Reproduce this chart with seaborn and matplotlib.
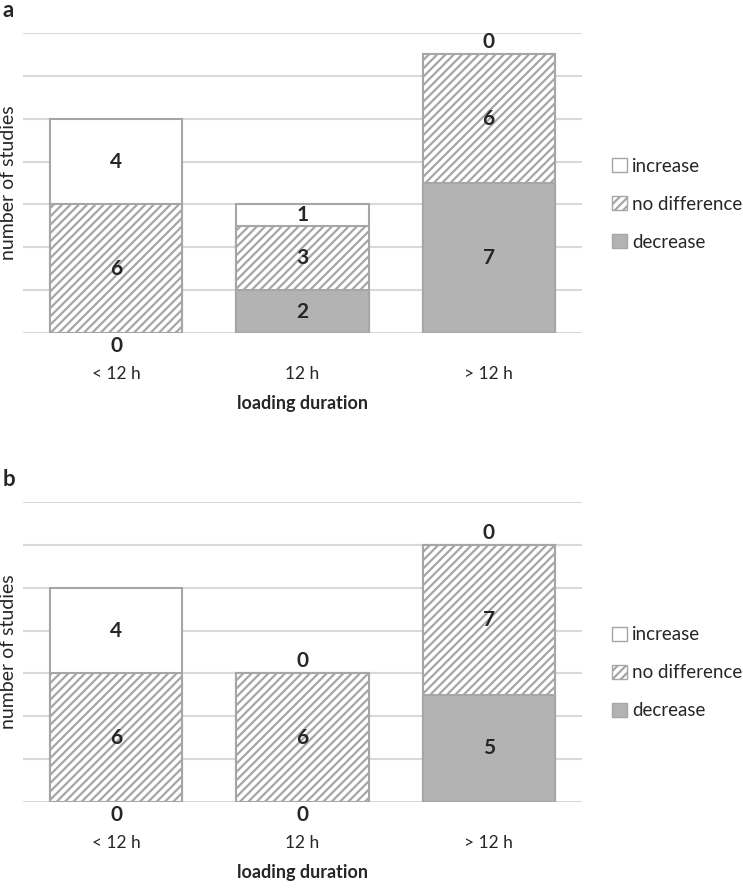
import seaborn as sns
import matplotlib.pyplot as plt
import numpy as np
from matplotlib.patches import Patch

# dados
categories = ["< 12 h", "12 h", "> 12 h"]
a_decrease = [0, 2, 7]
a_nodiff = [6, 3, 6]
a_increase = [4, 1, 0]
b_decrease = [0, 0, 5]
b_nodiff = [6, 6, 7]
b_increase = [4, 0, 0]

series_names = ["increase", "no difference", "decrease"]
edge = "#a6a6a6"
fills = {"increase": "white", "no difference": "white", "decrease": "#b3b3b3"}
hatches = {"increase": "", "no difference": "////", "decrease": ""}


def draw_panel(ax, decrease, nodiff, increase, letter):
    dec = np.array(decrease)
    nd = np.array(nodiff)
    inc = np.array(increase)
    # stacked by overlaying the cumulative totals
    layers = [("increase", dec + nd + inc), ("no difference", dec + nd), ("decrease", dec)]
    for name, heights in layers:
        sns.barplot(x=categories, y=heights, ax=ax, color=fills[name], saturation=1,
                    edgecolor=edge, linewidth=1.5, hatch=hatches[name], width=0.71,
                    errorbar=None)
    ax.set_ylim(0, 14)
    ax.set_xlim(-0.5, 2.5)
    ax.set_yticks(np.arange(0, 15, 2))
    ax.set_yticklabels([])
    ax.yaxis.grid(True, color="#d9d9d9", linewidth=1.5)
    ax.set_axisbelow(True)
    sns.despine(ax=ax, left=True, bottom=True)
    ax.tick_params(axis="both", length=0)
    ax.tick_params(axis="x", pad=24, labelsize=12.5)
    ax.set_xlabel("loading duration", fontsize=13, fontweight="bold", labelpad=9)
    ax.set_ylabel("number of studies", fontsize=14)
    ax.yaxis.set_label_coords(-0.01, 0.5)

    # rotulos
    fs = 15
    for i in range(len(categories)):
        total = dec[i] + nd[i] + inc[i]
        if dec[i] == 0:
            ax.text(i, -0.12, "0", ha="center", va="top", fontsize=fs, fontweight="bold")
        else:
            ax.text(i, dec[i] / 2, str(dec[i]), ha="center", va="center", fontsize=fs, fontweight="bold")
        ax.text(i, dec[i] + nd[i] / 2, str(nd[i]), ha="center", va="center", fontsize=fs, fontweight="bold")
        if inc[i] == 0:
            ax.text(i, total + 0.1, "0", ha="center", va="bottom", fontsize=fs, fontweight="bold")
        else:
            ax.text(i, dec[i] + nd[i] + inc[i] / 2, str(inc[i]), ha="center", va="center", fontsize=fs, fontweight="bold")

    handles = [Patch(facecolor=fills[n], edgecolor=edge, hatch=hatches[n], label=n) for n in series_names]
    ax.legend(handles=handles, loc="center left", bbox_to_anchor=(1.055, 0.43), frameon=False,
              fontsize=13.5, handlelength=0.75, handleheight=0.75, handletextpad=0.3, labelspacing=1.12,
              borderaxespad=0, borderpad=0)
    ax.text(-0.036, 1.075, letter, transform=ax.transAxes, fontsize=16, fontweight="bold",
            ha="left", va="center")


def main():
    sns.set_style("white")
    plt.rcParams["font.family"] = ["Lato", "DejaVu Sans"]
    plt.rcParams["hatch.linewidth"] = 1.6

    fig = plt.figure(figsize=(7.43, 8.89), dpi=100)
    ax_a = fig.add_axes([0.031, 0.6254, 0.752, 0.3375])
    ax_b = fig.add_axes([0.031, 0.0979, 0.752, 0.3375])

    draw_panel(ax_a, a_decrease, a_nodiff, a_increase, "a")
    draw_panel(ax_b, b_decrease, b_nodiff, b_increase, "b")

    fig.savefig("out.png", dpi=100)


if __name__ == "__main__":
    main()
